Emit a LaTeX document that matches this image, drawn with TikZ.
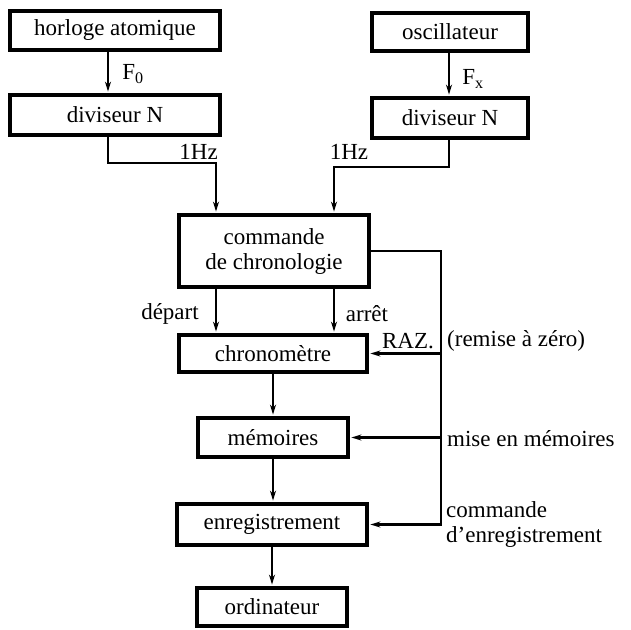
\documentclass[tikz,border=0pt]{standalone}
\usepackage{fontspec}
\setmainfont{Liberation Serif}
\usetikzlibrary{arrows.meta}
\begin{document}
\begin{tikzpicture}[x=1pt,y=-1pt,
  blk/.style={draw, line width=3.8pt, inner sep=0pt, align=center,
    font=\fontsize{23}{25}\selectfont},
  lbl/.style={inner sep=0pt, font=\fontsize{23}{25}\selectfont},
  conn/.style={line width=2.3pt},
  arr/.style={conn, -{Stealth[length=10pt,width=6pt]}, shorten >=1.5pt}]
\useasboundingbox (0,0) rectangle (631,629);
% blocks
\node[blk, minimum width=210, minimum height=39] (horloge) at (115,30.5) {horloge atomique};
\node[blk, minimum width=210, minimum height=40] (div1) at (115,115) {diviseur N};
\node[blk, minimum width=156, minimum height=38] (osc) at (450,32) {oscillateur};
\node[blk, minimum width=156, minimum height=40] (div2) at (450,118) {diviseur N};
\node[blk, minimum width=190, minimum height=72] (cmd) at (274,251) {commande\\de chronologie};
\node[blk, minimum width=188, minimum height=37] (chrono) at (273,353.5) {chronomètre};
\node[blk, minimum width=150, minimum height=39] (mem) at (273,437.5) {mémoires};
\node[blk, minimum width=190, minimum height=41] (enreg) at (272,524.5) {enregistrement};
\node[blk, minimum width=150, minimum height=38] (ordi) at (272,607) {ordinateur};
% helper coordinates
\coordinate (x1) at (108,0);
\coordinate (x2) at (449,0);
\coordinate (j1) at (216,163);
\coordinate (j2) at (334,167);
\coordinate (bx) at (441,0);
\coordinate (busbot) at (enreg.east -| bx);
% connectors
\draw[arr] (horloge.south -| x1) -- (div1.north -| x1);
\draw[arr] (osc.south -| x2) -- (div2.north -| x2);
\draw[arr] (div1.south -| x1) |- (j1) -- (cmd.north -| j1);
\draw[arr] (div2.south -| x2) |- (j2) -- (cmd.north -| j2);
\draw[arr] (cmd.south -| j1) -- (chrono.north -| j1);
\draw[arr] (cmd.south -| j2) -- (chrono.north -| j2);
\draw[arr] (cmd.east) -| (busbot) -- (enreg.east);
\draw[arr] (chrono.east -| bx) -- (chrono.east);
\draw[arr] (mem.east -| bx) -- (mem.east);
\draw[arr] (chrono.south) -- (mem.north);
\draw[arr] (mem.south) -- (enreg.north -| mem.south);
\draw[arr] (enreg.south) -- (ordi.north);
% labels
\node[lbl] (lf0) at (133,74) {F\textsubscript{0}};
\node[lbl] (lfx) at (473,79) {F\textsubscript{x}};
\node[lbl, anchor=east] (lhz1) at (218,152) {1Hz};
\node[lbl] (lhz2) at (349,152) {1Hz};
\node[lbl] (ldep) at (170,314) {départ};
\node[lbl] (larr) at (367,314) {arrêt};
\node[lbl] (lraz) at (408,341) {RAZ.};
\node[lbl, anchor=west] (lrem) at (447,341) {(remise à zéro)};
\node[lbl, anchor=west] (lmise) at (447,439) {mise en mémoires};
\node[lbl, anchor=west, align=left] (lcde) at (446,524) {commande\\d'enregistrement};
\end{tikzpicture}
\end{document}
